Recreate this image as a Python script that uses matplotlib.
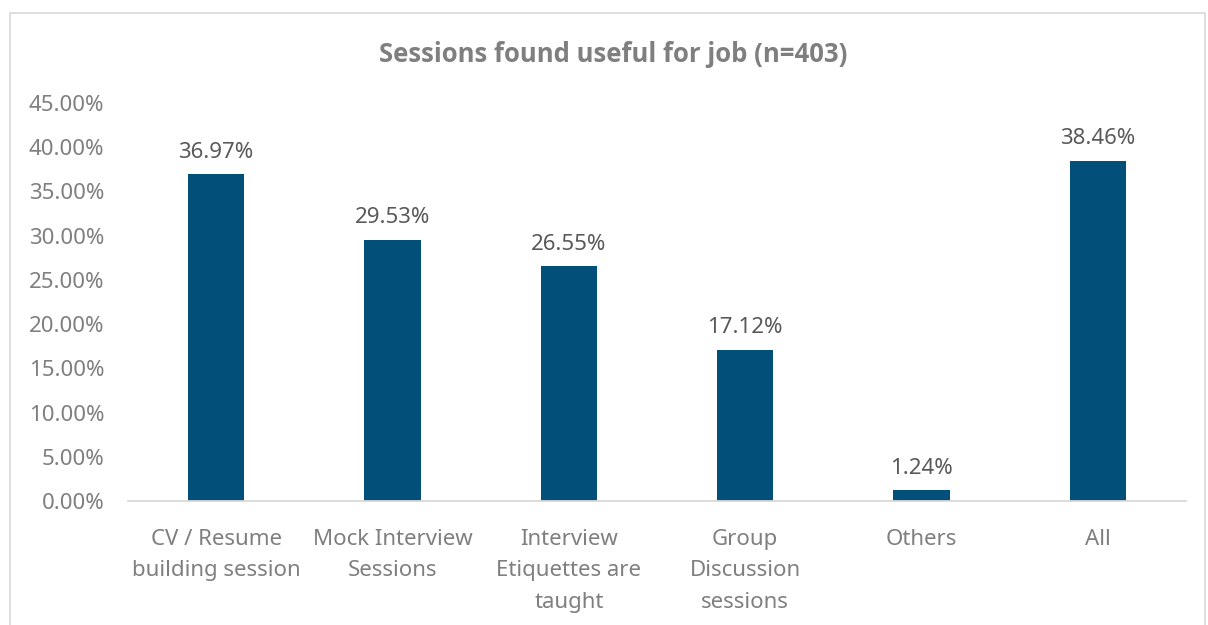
import matplotlib
matplotlib.use("Agg")
import matplotlib.pyplot as plt
from matplotlib.patches import Rectangle
from matplotlib.ticker import FuncFormatter

plt.rcParams["font.family"] = ["Noto Sans", "DejaVu Sans"]

CATEGORIES = [
    "CV / Resume\nbuilding session",
    "Mock Interview\nSessions",
    "Interview\nEtiquettes are\ntaught",
    "Group\nDiscussion\nsessions",
    "Others",
    "All",
]
SHARE = [36.97, 29.53, 26.55, 17.12, 1.24, 38.46]
Y_TICKS = [0, 5, 10, 15, 20, 25, 30, 35, 40, 45]

BAR_COLOR = "#02507A"
AXIS_GREY = "#D9D9D9"
TEXT_GREY = "#7F7F7F"
LABEL_GREY = "#595959"

fig = plt.figure(figsize=(12.08, 6.25), dpi=100)
ax = fig.add_axes([128 / 1208, 124 / 625, 1058 / 1208, 398 / 625])

# chart-area frame
fig.patches.append(Rectangle((10 / 1208, -0.05), 1195 / 1208, (612 / 625) + 0.05,
                             transform=fig.transFigure, fill=False,
                             edgecolor=AXIS_GREY, linewidth=1.2))

x = range(len(CATEGORIES))
bars = ax.bar(x, SHARE, width=0.32, color=BAR_COLOR)

for b, v in zip(bars, SHARE):
    ax.text(b.get_x() + b.get_width() / 2, v + 1.3, f"{v:.2f}%",
            ha="center", va="bottom", fontsize=16, color=LABEL_GREY)

ax.set_xlim(-0.5, len(CATEGORIES) - 0.5)
ax.set_ylim(0, 45)
ax.set_yticks(Y_TICKS)
ax.yaxis.set_major_formatter(FuncFormatter(lambda v, _: f"{v:.2f}%"))
ax.set_xticks(list(x))
ax.set_xticklabels(CATEGORIES, fontsize=16, color=TEXT_GREY, linespacing=1.65)
ax.tick_params(axis="y", labelsize=16, labelcolor=TEXT_GREY, length=0, pad=17)
ax.tick_params(axis="x", length=0, pad=20)

for side in ("top", "right", "left"):
    ax.spines[side].set_visible(False)
ax.spines["bottom"].set_color(AXIS_GREY)
ax.spines["bottom"].set_linewidth(1.3)

fig.text(613 / 1208, 1 - 55 / 625, "Sessions found useful for job (n=403)",
         ha="center", va="center", fontsize=18.5, fontweight="bold",
         family=["Open Sans", "DejaVu Sans"], color=TEXT_GREY)

fig.savefig("out.png", dpi=100)
